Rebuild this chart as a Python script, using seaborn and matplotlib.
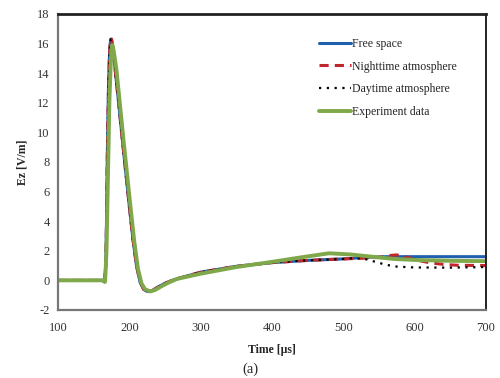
import matplotlib
matplotlib.use("Agg")
import matplotlib.pyplot as plt
import seaborn as sns

# =============================
# DATA
# =============================
# shared first pulse, all four curves lie on top of each other here
t_pulse = [100, 150, 162, 165, 167, 168, 169, 170, 171, 172, 173, 174, 175, 176,
           178, 180, 185, 190, 195, 200, 205, 210, 215, 220, 225, 232, 240, 250,
           260, 270, 300, 350, 400, 450]
ez_pulse = [0.0, 0.0, 0.0, -0.1, 1.0, 4.0, 8.0, 11.0, 13.5, 15.0, 15.9, 16.3, 16.3, 16.0,
            15.2, 14.3, 12.0, 9.6, 7.3, 5.0, 2.8, 1.0, -0.1, -0.6, -0.75, -0.7, -0.45, -0.2,
            0.0, 0.15, 0.55, 0.95, 1.2, 1.35]

t_free = [500, 530, 560, 600, 650, 700]
ez_free = [1.45, 1.55, 1.6, 1.6, 1.6, 1.6]

t_night = [500, 530, 550, 565, 575, 585, 600, 620, 640, 660, 700]
ez_night = [1.45, 1.5, 1.55, 1.68, 1.72, 1.62, 1.4, 1.2, 1.08, 1.02, 1.0]

t_day = [500, 515, 530, 545, 560, 575, 600, 650, 700]
ez_day = [1.45, 1.5, 1.45, 1.25, 1.05, 0.93, 0.87, 0.86, 0.9]

t_exp = [100, 150, 163, 166, 168, 170, 172, 174, 175, 176, 177, 179, 182, 187, 192, 197,
         202, 207, 212, 217, 222, 229, 236, 245, 255, 267, 300, 350, 400, 440, 480,
         510, 540, 570, 600, 650, 700]
ez_exp = [0.0, 0.0, 0.0, -0.1, 2.0, 7.0, 12.0, 14.8, 15.6, 15.9, 15.8, 15.2, 14.2, 11.8,
          9.4, 7.1, 4.8, 2.6, 0.8, -0.2, -0.6, -0.75, -0.65, -0.4, -0.15, 0.1, 0.45, 0.9,
          1.25, 1.55, 1.83, 1.75, 1.6, 1.45, 1.38, 1.32, 1.3]

labels = ["Free space", "Nighttime atmosphere", "Daytime atmosphere", "Experiment data"]

# =============================
# PLOT
# =============================
sns.set_style("white")
plt.rcParams["font.family"] = ["Liberation Serif", "DejaVu Serif"]
plt.rcParams["axes.unicode_minus"] = False

fig, ax = plt.subplots(figsize=(5, 3.78), dpi=100)
fig.subplots_adjust(left=0.116, right=0.972, top=0.963, bottom=0.18)

sns.lineplot(x=t_pulse + t_free, y=ez_pulse + ez_free, ax=ax, color="#1f5fae",
             lw=2.2, label=labels[0], estimator=None, sort=False)
sns.lineplot(x=t_pulse + t_night, y=ez_pulse + ez_night, ax=ax, color="#c0272d",
             lw=2.2, linestyle=(0, (3, 2)), label=labels[1], estimator=None, sort=False)
sns.lineplot(x=t_pulse + t_day, y=ez_pulse + ez_day, ax=ax, color="black",
             lw=1.6, linestyle=(0, (1, 2.5)), label=labels[2], estimator=None, sort=False)
sns.lineplot(x=t_exp, y=ez_exp, ax=ax, color="#7fa84a", lw=2.8,
             label=labels[3], estimator=None, sort=False)

ax.set_xlim(100, 700)
ax.set_ylim(-2, 18)
ax.set_xticks(range(100, 701, 100))
ax.set_yticks(range(-2, 19, 2))
ax.tick_params(axis="both", labelsize=9, colors="#333333")
ax.tick_params(axis="x", direction="in", length=3, color="#999999", pad=9)
ax.tick_params(axis="y", direction="out", length=3, color="#777777", pad=3)

for side in ["left", "bottom"]:
    ax.spines[side].set_color("#777777")
    ax.spines[side].set_linewidth(1.6)
ax.spines["top"].set_color("#222222")
ax.spines["top"].set_linewidth(2.0)
ax.spines["right"].set_color("#222222")
ax.spines["right"].set_linewidth(1.4)

ax.set_xlabel("Time [μs]", fontsize=8.5, fontweight="bold", labelpad=7)
ax.set_ylabel("Ez [V/m]", fontsize=8.5, fontweight="bold", labelpad=6)
fig.text(0.5, 0.015, "(a)", ha="center", fontsize=10.5)

ax.legend(loc="upper left", bbox_to_anchor=(0.585, 0.955), frameon=False,
          fontsize=8.5, handlelength=2.7, handletextpad=0.1, labelspacing=0.9)

plt.savefig("out.png", dpi=100)
plt.close()
